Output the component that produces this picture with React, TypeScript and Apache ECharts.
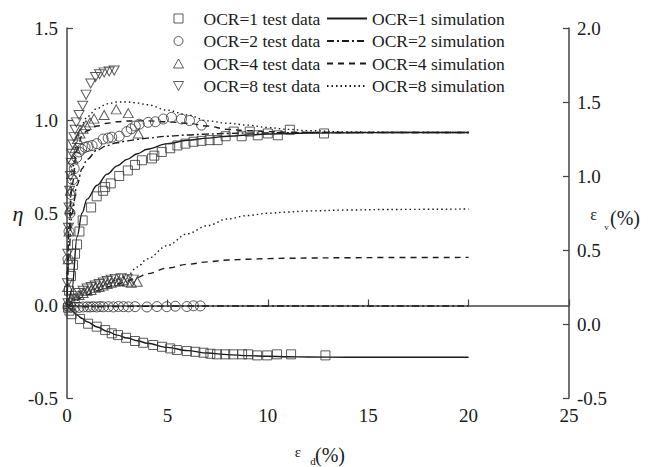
import React, { useEffect, useRef } from "react";
import * as echarts from "echarts";

// ---- axes ----
const xRange = [0, 25];
const etaRange = [-0.5, 1.5];
const evRange = [-0.5, 2.0];

// ---- simulation curves (x = εd %) ----
const simX = [0, 0.1, 0.25, 0.5, 0.75, 1, 1.5, 2, 2.5, 3, 3.5, 4, 5, 6, 7, 8, 9, 10, 11, 12, 14, 16, 20];
const eta1Sim = [0, 0.04, 0.09, 0.37, 0.5, 0.575, 0.65, 0.71, 0.755, 0.79, 0.82, 0.845, 0.875, 0.893, 0.905, 0.915, 0.922, 0.927, 0.93, 0.932, 0.934, 0.935, 0.935];
const eta2Sim = [0, 0.3, 0.5, 0.65, 0.74, 0.79, 0.84, 0.865, 0.88, 0.89, 0.898, 0.905, 0.915, 0.922, 0.927, 0.93, 0.932, 0.933, 0.934, 0.935, 0.935, 0.935, 0.935];
const eta4Sim = [0, 0.4, 0.65, 0.84, 0.92, 0.945, 0.97, 0.985, 0.993, 0.997, 0.998, 0.998, 0.993, 0.985, 0.97, 0.952, 0.945, 0.94, 0.937, 0.936, 0.935, 0.935, 0.935];
const eta8Sim = [0, 0.45, 0.72, 0.9, 0.98, 1.02, 1.065, 1.09, 1.1, 1.1, 1.095, 1.085, 1.056, 1.03, 0.998, 0.985, 0.975, 0.962, 0.952, 0.945, 0.938, 0.936, 0.935];
const ev1Sim = [0.122, 0.11, 0.09, 0.06, 0.037, 0.015, -0.02, -0.05, -0.075, -0.095, -0.113, -0.13, -0.158, -0.18, -0.196, -0.207, -0.214, -0.218, -0.221, -0.223, -0.225, -0.225, -0.225];
const ev2Sim = [0.122, 0.12, 0.118, 0.117, 0.117, 0.117, 0.117, 0.118, 0.118, 0.119, 0.12, 0.12, 0.121, 0.122, 0.122, 0.122, 0.122, 0.122, 0.122, 0.122, 0.122, 0.122, 0.122];
const ev4Sim = [0.122, 0.13, 0.142, 0.16, 0.18, 0.198, 0.225, 0.25, 0.27, 0.29, 0.315, 0.34, 0.378, 0.403, 0.42, 0.432, 0.438, 0.442, 0.444, 0.446, 0.448, 0.449, 0.45];
const ev8Sim = [0.122, 0.135, 0.15, 0.17, 0.19, 0.21, 0.24, 0.27, 0.3, 0.325, 0.385, 0.44, 0.53, 0.61, 0.665, 0.71, 0.733, 0.748, 0.757, 0.764, 0.77, 0.774, 0.777];

// ---- test data: [εd %, η] ----
const eta1Test = [[0.1,0.08],[0.2,0.16],[0.3,0.22],[0.4,0.28],[0.5,0.33],[0.62,0.4],[0.78,0.46],[1.2,0.53],[1.48,0.59],[1.8,0.62],[1.9,0.64],[2.18,0.66],[2.6,0.7],[3.03,0.73],[3.39,0.76],[3.73,0.785],[4.23,0.795],[4.35,0.81],[4.72,0.83],[5.14,0.85],[5.5,0.865],[5.9,0.875],[6.3,0.885],[6.7,0.89],[7.1,0.894],[7.5,0.894],[7.9,0.915],[8.3,0.94],[8.7,0.915],[9.1,0.94],[9.5,0.92],[10.0,0.93],[10.5,0.92],[11.1,0.95],[12.8,0.93]];
const eta2Test = [[0.05,0.25],[0.1,0.4],[0.15,0.5],[0.2,0.6],[0.28,0.68],[0.36,0.74],[0.48,0.8],[0.6,0.83],[0.73,0.845],[0.9,0.855],[1.05,0.86],[1.25,0.865],[1.48,0.875],[1.8,0.9],[2.05,0.905],[2.23,0.91],[2.6,0.915],[2.98,0.94],[3.2,0.955],[3.4,0.97],[3.6,0.98],[4.04,0.99],[4.4,0.993],[4.8,1.008],[5.2,1.017],[5.7,1.008],[6.1,1.0],[6.7,0.975]];
const eta4Test = [[0.03,0.1],[0.06,0.25],[0.1,0.4],[0.14,0.52],[0.18,0.62],[0.23,0.71],[0.3,0.79],[0.4,0.85],[0.52,0.9],[0.65,0.93],[0.8,0.955],[0.95,0.975],[1.15,0.99],[1.35,1.01],[1.85,1.03],[2.45,1.06],[3.05,1.04],[3.55,0.93]];
const eta8Test = [[0.02,0.12],[0.04,0.28],[0.07,0.42],[0.1,0.53],[0.13,0.62],[0.17,0.7],[0.21,0.77],[0.25,0.82],[0.3,0.87],[0.35,0.91],[0.4,0.95],[0.47,0.99],[0.6,1.03],[0.78,1.08],[0.95,1.14],[1.18,1.2],[1.42,1.235],[1.62,1.25],[1.85,1.26],[2.1,1.265],[2.35,1.27]];

// ---- test data: [εd %, εv %] ----
const ev1Test = [[0.05,0.11],[0.12,0.09],[0.23,0.066],[0.65,0.034],[1.05,0.002],[1.48,-0.018],[1.9,-0.041],[2.23,-0.063],[2.54,-0.075],[2.94,-0.093],[3.39,-0.115],[3.79,-0.127],[4.29,-0.142],[4.73,-0.154],[5.14,-0.165],[5.47,-0.176],[5.97,-0.183],[6.39,-0.188],[6.8,-0.194],[7.14,-0.201],[7.47,-0.205],[7.88,-0.205],[8.28,-0.205],[8.72,-0.205],[9.03,-0.205],[9.47,-0.212],[9.97,-0.212],[10.46,-0.205],[11.16,-0.205],[12.87,-0.212]];
const ev2Test = [[0.05,0.12],[0.2,0.115],[0.4,0.113],[0.6,0.112],[0.81,0.115],[1.0,0.116],[1.15,0.115],[1.3,0.117],[1.48,0.115],[1.65,0.118],[1.81,0.116],[2.06,0.117],[2.31,0.115],[2.56,0.118],[2.81,0.117],[3.06,0.116],[3.39,0.117],[3.98,0.115],[4.48,0.118],[4.97,0.117],[5.39,0.12],[5.97,0.118],[6.3,0.123],[6.64,0.122]];
const ev4Test = [[0.05,0.135],[0.2,0.156],[0.4,0.176],[0.6,0.196],[0.8,0.21],[1.0,0.224],[1.2,0.23],[1.4,0.244],[1.6,0.25],[1.8,0.26],[2.0,0.27],[2.2,0.278],[2.4,0.285],[2.6,0.29],[2.8,0.295],[3.0,0.285],[3.2,0.278],[3.5,0.285]];
const ev8Test = [[0.05,0.14],[0.2,0.17],[0.4,0.19],[0.6,0.21],[0.8,0.225],[1.0,0.24],[1.2,0.25],[1.4,0.26],[1.6,0.27],[1.8,0.28],[2.0,0.29],[2.2,0.3],[2.4,0.305],[2.7,0.31],[3.0,0.305],[3.3,0.3]];

const testNames = ["OCR=1 test data", "OCR=2 test data", "OCR=4 test data", "OCR=8 test data"];
const simNames = ["OCR=1 simulation", "OCR=2 simulation", "OCR=4 simulation", "OCR=8 simulation"];

const FONT = "Liberation Serif";
const INK = "#1a1a1a";
const MARK = "#333";

const symbols: any[] = [
  "path://M0,0L10,0L10,10L0,10Z",
  "path://M5,0A5,5,0,1,1,5,10A5,5,0,1,1,5,0Z",
  "path://M5,0L10,9L0,9Z",
  "path://M0,0L10,0L5,9Z",
];
const symbolSizes: any[] = [9, 10, [10, 9], [10, 9]];
const dashTypes: any[] = ["solid", [7, 3, 2, 3], [6, 5], [1.5, 3]];

function txt(text: string, x: number, y: number, size: number, align: string, italic = false) {
  return {
    type: "text",
    x,
    y,
    style: {
      text,
      fontFamily: FONT,
      fontSize: size,
      fontStyle: italic ? "italic" : "normal",
      fill: INK,
      align,
      verticalAlign: "middle",
    },
  };
}

export default function App() {
  const ref = useRef<HTMLDivElement>(null);
  useEffect(() => {
    if (!ref.current) return;
    const chart = echarts.init(ref.current, undefined, { renderer: "svg" });
    const etaTests = [eta1Test, eta2Test, eta4Test, eta8Test];
    const evTests = [ev1Test, ev2Test, ev4Test, ev8Test];
    const etaSims = [eta1Sim, eta2Sim, eta4Sim, eta8Sim];
    const evSims = [ev1Sim, ev2Sim, ev4Sim, ev8Sim];
    const series: any[] = [];
    for (let i = 0; i < 4; i++) {
      const scatterBase = {
        type: "scatter",
        name: testNames[i],
        symbol: symbols[i],
        symbolSize: symbolSizes[i],
        itemStyle: { color: "rgba(255,255,255,0)", borderColor: MARK, borderWidth: 1 },
        z: 3,
        silent: true,
      };
      series.push({ ...scatterBase, yAxisIndex: 0, data: etaTests[i] });
      series.push({ ...scatterBase, yAxisIndex: 1, data: evTests[i] });
      const lineBase = {
        type: "line",
        name: simNames[i],
        symbol: "none",
        smooth: 0.35,
        smoothMonotone: "x",
        lineStyle: { color: INK, width: 1.4, type: dashTypes[i] },
        itemStyle: { color: INK },
        z: 2,
        silent: true,
      };
      series.push({ ...lineBase, yAxisIndex: 0, data: simX.map((x, j) => [x, etaSims[i][j]]) });
      series.push({ ...lineBase, yAxisIndex: 1, data: simX.map((x, j) => [x, evSims[i][j]]) });
    }
    const axisCommon = {
      axisLine: { show: true, lineStyle: { color: "#444", width: 1.5 } },
      axisTick: { show: true, inside: true, length: 6, lineStyle: { color: "#444", width: 1.2 } },
      splitLine: { show: false },
    };
    const legendText = { color: INK, fontSize: 17.5, fontFamily: FONT };
    chart.setOption({
      animation: false,
      backgroundColor: "#fff",
      grid: { left: 67, right: 86, top: 28, bottom: 69, containLabel: false },
      legend: [
        {
          data: testNames, orient: "vertical", left: 173, top: 9.5, padding: 0,
          itemWidth: 40, itemHeight: 9, itemGap: 4.5, selectedMode: false, symbolKeepAspect: true,
          textStyle: legendText, itemStyle: { borderWidth: 1 },
        },
        {
          data: simNames, orient: "vertical", left: 326, top: 9.5, padding: 0,
          itemWidth: 40, itemHeight: 9, itemGap: 4.5, selectedMode: false,
          textStyle: legendText, itemStyle: { opacity: 0, borderWidth: 0 },
        },
      ],
      xAxis: {
        type: "value", min: xRange[0], max: xRange[1], interval: 5,
        ...axisCommon,
        axisLabel: { color: INK, fontSize: 19, fontFamily: FONT, margin: 8, formatter: (v: number) => String(v) },
      },
      yAxis: [
        {
          type: "value", min: etaRange[0], max: etaRange[1], interval: 0.5, position: "left",
          ...axisCommon,
          axisLabel: { color: INK, fontSize: 19, fontFamily: FONT, margin: 9, formatter: (v: number) => v.toFixed(1) },
        },
        {
          type: "value", min: evRange[0], max: evRange[1], interval: 0.5, position: "right",
          ...axisCommon,
          axisLabel: { color: INK, fontSize: 19, fontFamily: FONT, margin: 8, formatter: (v: number) => v.toFixed(1) },
        },
      ],
      graphic: [
        txt("η", 18, 213.5, 22, "center", true),
        txt("ε", 298, 452, 15, "center"),
        txt("d", 313, 460.5, 11, "center"),
        txt("(%)", 315, 454.5, 20, "left"),
        txt("ε", 593.5, 214.6, 16, "center"),
        txt("v", 606.5, 227, 9, "center"),
        txt("(%)", 610, 217.5, 20, "left"),
      ],
      series,
    });
    return () => chart.dispose();
  }, []);
  return (
    <div
      ref={ref}
      style={{ position: "absolute", left: 0, top: 0, width: 655, height: 467, background: "#fff", fontFamily: "Liberation Serif" }}
    />
  );
}
